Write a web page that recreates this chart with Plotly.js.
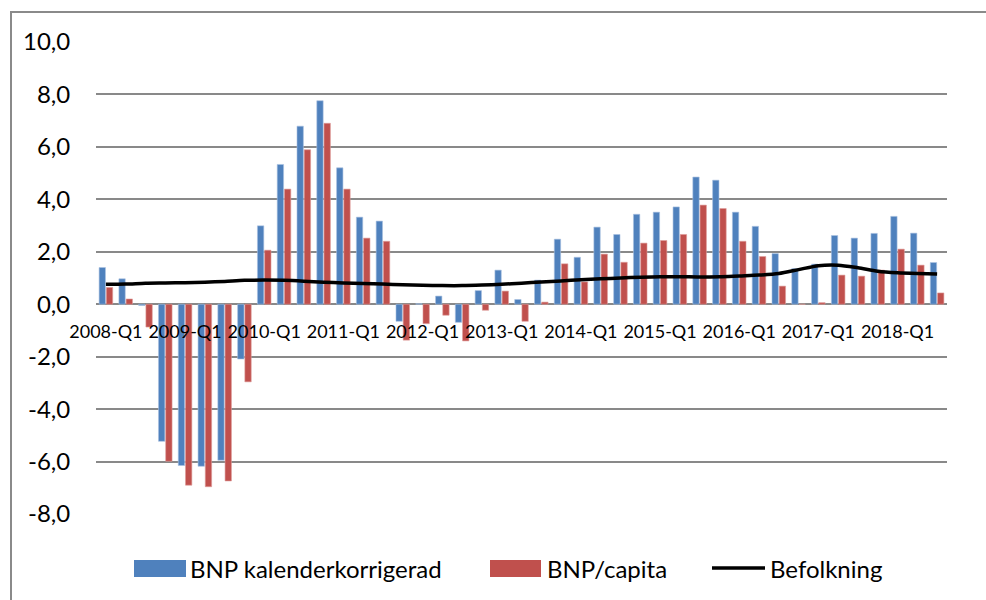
<!DOCTYPE html>
<html>
<head>
<meta charset="utf-8">
<script src="https://cdn.plot.ly/plotly-3.0.1.min.js"></script>
<style>
  html, body { margin: 0; padding: 0; background: #ffffff; }
  #wrap { position: relative; width: 986px; height: 600px; overflow: hidden; }
  #chart { position: absolute; left: 0; top: 0; width: 986px; height: 600px; }
  #frame { position: absolute; left: 10px; top: 11px; width: 1000px; height: 620px;
           border-left: 2px solid #8a8a8a; border-top: 2px solid #8a8a8a; pointer-events: none; }
</style>
</head>
<body>
<div id="wrap">
  <div id="chart"></div>
  <div id="frame"></div>
</div>
<script>
// ---- data ----
const years = [2008, 2009, 2010, 2011, 2012, 2013, 2014, 2015, 2016, 2017, 2018];
const quarters = [];
years.forEach(y => ['Q1','Q2','Q3','Q4'].forEach(q => quarters.push(y + '-' + q)));
const categories = quarters.slice(0, 43); // 2008-Q1 .. 2018-Q3

const seriesNames = ['BNP kalenderkorrigerad', 'BNP/capita', 'Befolkning'];

const bnpKalender = [1.40, 0.97, -0.05, -5.23, -6.15, -6.18, -5.95, -2.09,
  2.99, 5.33, 6.79, 7.76, 5.20, 3.32, 3.17, -0.65,
  0.02, 0.31, -0.69, 0.52, 1.30, 0.18, 0.92, 2.48,
  1.79, 2.94, 2.66, 3.43, 3.51, 3.71, 4.85, 4.73,
  3.51, 2.97, 1.93, 1.36, 1.53, 2.62, 2.52, 2.70,
  3.35, 2.71, 1.59];

const bnpCapita = [0.64, 0.20, -0.87, -5.99, -6.90, -6.96, -6.74, -2.96,
  2.06, 4.39, 5.89, 6.90, 4.39, 2.52, 2.40, -1.37,
  -0.74, -0.42, -1.40, -0.23, 0.50, -0.65, 0.08, 1.54,
  0.85, 1.91, 1.60, 2.33, 2.43, 2.66, 3.78, 3.65,
  2.40, 1.82, 0.69, 0.00, 0.06, 1.11, 1.07, 1.30,
  2.10, 1.49, 0.43];

const befolkning = [0.76, 0.77, 0.80, 0.81, 0.82, 0.84, 0.87, 0.91,
  0.92, 0.91, 0.88, 0.84, 0.81, 0.79, 0.77, 0.74,
  0.72, 0.71, 0.71, 0.73, 0.76, 0.80, 0.85, 0.89,
  0.93, 0.97, 1.00, 1.03, 1.05, 1.05, 1.04, 1.05,
  1.08, 1.11, 1.17, 1.32, 1.47, 1.49, 1.39, 1.26,
  1.20, 1.17, 1.15];

const yTicks = [-8, -6, -4, -2, 0, 2, 4, 6, 8, 10];
const yTickText = yTicks.map(v => v.toFixed(1).replace('.', ','));
const xTickVals = categories.filter(c => c.endsWith('Q1'));

// ---- styles ----
const BLUE = '#4F81BD', RED = '#C0504D', GRID = '#898989';
const FONT = 'Lato, "Open Sans", "Noto Sans", sans-serif';
const yMin = -8, yMax = 10;

const traces = [
  { type: 'bar', name: seriesNames[0], x: categories, y: bnpKalender,
    marker: { color: BLUE, line: { color: '#a9c1e0', width: 0.6 } }, showlegend: false },
  { type: 'bar', name: seriesNames[1], x: categories, y: bnpCapita,
    marker: { color: RED, line: { color: '#dd9c9a', width: 0.6 } }, showlegend: false },
  { type: 'scatter', mode: 'lines', name: seriesNames[2], x: categories, y: befolkning,
    line: { color: '#000000', width: 3.5, shape: 'spline', smoothing: 0.8 }, showlegend: false }
];

// custom legend (matching Excel's wide swatches)
const legendY = 568;      // px from top
const H = 600, W = 986;
const mL = 96, mR = 39, mT = 42, mB = 86;
const pw = W - mL - mR, ph = H - mT - mB;
const px2x = px => (px - mL) / pw;
const px2y = py => (H - mB - py) / ph;
const legFont = { family: FONT, size: 24, color: '#000' };

const shapes = [
  { type: 'rect', xref: 'paper', yref: 'paper', x0: px2x(134), x1: px2x(186),
    y0: px2y(577), y1: px2y(560), fillcolor: BLUE, line: { width: 0 } },
  { type: 'rect', xref: 'paper', yref: 'paper', x0: px2x(490), x1: px2x(541),
    y0: px2y(577), y1: px2y(560), fillcolor: RED, line: { width: 0 } },
  { type: 'line', xref: 'paper', yref: 'paper', x0: px2x(712), x1: px2x(765),
    y0: px2y(legendY), y1: px2y(legendY), line: { color: '#000000', width: 3.5 } }
];
const annotations = [
  { xref: 'paper', yref: 'paper', x: px2x(188), y: px2y(legendY), text: seriesNames[0],
    showarrow: false, xanchor: 'left', yanchor: 'middle', font: legFont },
  { xref: 'paper', yref: 'paper', x: px2x(545), y: px2y(legendY), text: seriesNames[1],
    showarrow: false, xanchor: 'left', yanchor: 'middle', font: legFont },
  { xref: 'paper', yref: 'paper', x: px2x(768), y: px2y(legendY), text: seriesNames[2],
    showarrow: false, xanchor: 'left', yanchor: 'middle', font: legFont }
];

const layout = {
  width: W, height: H,
  margin: { l: mL, r: mR, t: mT, b: mB, pad: 0 },
  paper_bgcolor: '#ffffff', plot_bgcolor: '#ffffff',
  barmode: 'group', bargap: 0.27, bargroupgap: 0.12,
  showlegend: false,
  font: { family: FONT, color: '#000000' },
  xaxis: {
    type: 'category', categoryorder: 'array', categoryarray: categories,
    anchor: 'free', position: (0 - yMin) / (yMax - yMin),
    tickmode: 'array', tickvals: xTickVals, ticktext: xTickVals,
    tickangle: 0, ticks: 'outside', ticklen: 11, tickcolor: 'rgba(0,0,0,0)',
    showgrid: false, showline: false, zeroline: false,
    tickfont: { family: FONT, size: 18, color: '#000' }
  },
  yaxis: {
    range: [yMin, yMax], tickmode: 'array', tickvals: yTicks, ticktext: yTickText,
    showgrid: true, gridcolor: GRID, gridwidth: 2,
    zeroline: true, zerolinecolor: GRID, zerolinewidth: 2,
    showline: false, ticks: 'outside', ticklen: 20, tickcolor: 'rgba(0,0,0,0)',
    tickfont: { family: FONT, size: 24, color: '#000' }
  },
  shapes: shapes,
  annotations: annotations
};

Plotly.newPlot('chart', traces, layout, { displayModeBar: false, staticPlot: true });
</script>
</body>
</html>
